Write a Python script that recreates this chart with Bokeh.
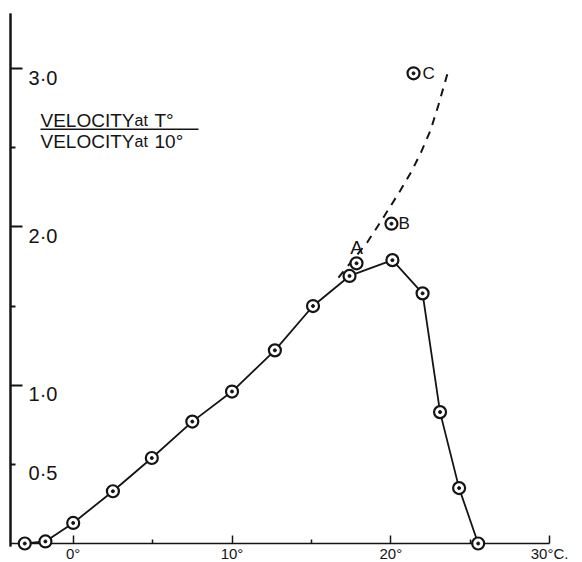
from bokeh.plotting import figure
from bokeh.models import Range1d, LinearAxis, FixedTicker, Label, BoxAnnotation
from bokeh.core.properties import value
from bokeh.embed import file_html
from bokeh.resources import INLINE

# ---- data ----
temp = [-3.05, -1.75, 0.0, 2.5, 4.95, 7.5, 10.0, 12.7, 15.1, 17.4, 20.1, 22.0, 23.1, 24.3, 25.5]
ratio = [0.0, 0.013, 0.13, 0.33, 0.54, 0.77, 0.96, 1.22, 1.50, 1.69, 1.79, 1.58, 0.83, 0.35, 0.0]

extrap_t = [16.7, 18.5, 19.6, 20.6, 21.3, 21.9, 22.5, 23.0, 23.6]
extrap_r = [1.68, 1.90, 2.07, 2.23, 2.35, 2.47, 2.61, 2.77, 2.98]

point_a = (17.84, 1.77)
point_b = (20.04, 2.02)
point_c = (21.43, 2.97)

xtick_vals = [0, 10, 20, 30]
xtick_labels = ["0°", "10°", "20°", "30°C."]
xminor_vals = [5, 15, 25]

ytick_long = [1, 2, 3]
ytick_short = [0.5, 1.5, 2.5]
ylabel_vals = [0.5, 1, 2, 3]
ylabel_text = ["0·5", "1·0", "2·0", "3·0"]

X_AXIS_AT = -3.948
INK = "#141414"
FONT = "Liberation Sans"

p = figure(width=582, height=562,
           x_range=Range1d(-4.578, 32.07), y_range=Range1d(-0.120, 3.430),
           output_backend="svg", toolbar_location=None,
           x_axis_location=None, y_axis_location=None, min_border=0)
p.xgrid.visible = False
p.ygrid.visible = False
p.outline_line_color = None
p.background_fill_color = "white"

xaxis = LinearAxis(fixed_location=0,
                   ticker=FixedTicker(ticks=xtick_vals, minor_ticks=xminor_vals),
                   bounds=(X_AXIS_AT, 30.0),
                   major_tick_in=8, major_tick_out=0, minor_tick_in=4, minor_tick_out=0,
                   major_tick_line_width=1.5, minor_tick_line_width=1.5,
                   axis_line_width=1.6, axis_line_color=INK,
                   major_tick_line_color=INK, minor_tick_line_color=INK,
                   major_label_overrides=dict(zip(xtick_vals, xtick_labels)),
                   major_label_standoff=1,
                   major_label_text_font=FONT, major_label_text_font_size="15px",
                   major_label_text_color=INK, major_label_text_font_style="normal",
                   level="underlay")
p.add_layout(xaxis, "below")

# left axis: drawn twice at the same place, long ticks and short ticks, no labels
for ticks, length in ((ytick_long, 12), (ytick_short, 5)):
    yaxis = LinearAxis(fixed_location=X_AXIS_AT,
                       ticker=FixedTicker(ticks=[], minor_ticks=ticks),
                       bounds=(-0.02, 3.348),
                       major_tick_in=0, major_tick_out=0,
                       minor_tick_in=length, minor_tick_out=0,
                       minor_tick_line_width=2,
                       axis_line_width=2, axis_line_color=INK,
                       minor_tick_line_color=INK,
                       level="underlay")
    p.add_layout(yaxis, "left")

# y tick labels sit inside the plot, right of the axis, just below their ticks
p.text(x=[X_AXIS_AT] * len(ylabel_vals), y=ylabel_vals, text=ylabel_text,
       x_offset=18, y_offset=9, text_align="left", text_baseline="middle",
       text_font=value(FONT), text_font_size="20px", text_color=INK)

# extrapolated (dashed) curve
p.line(extrap_t, extrap_r, line_color=INK, line_width=2, line_dash="8 7")

# observed curve
p.line(temp, ratio, line_color=INK, line_width=1.8)
p.scatter(temp, ratio, size=12, fill_color="white", line_color=INK, line_width=2.2)
p.scatter(temp, ratio, size=3, color=INK)

# marked points A, B, C
mx = [point_a[0], point_b[0], point_c[0]]
my = [point_a[1], point_b[1], point_c[1]]
p.scatter(mx, my, size=12, fill_color="white", line_color=INK, line_width=2.2)
p.scatter(mx, my, size=3, color=INK)
p.text(x=[point_a[0]], y=[point_a[1]], text=["A"], y_offset=-16,
       text_align="center", text_baseline="middle",
       text_font=value(FONT), text_font_size="19px", text_color=INK)
p.text(x=[point_b[0]], y=[point_b[1]], text=["B"], x_offset=7,
       text_align="left", text_baseline="middle",
       text_font=value(FONT), text_font_size="17px", text_color=INK)
p.text(x=[point_c[0]], y=[point_c[1]], text=["C"], x_offset=9,
       text_align="left", text_baseline="middle",
       text_font=value(FONT), text_font_size="17px", text_color=INK)

# y-axis quantity written as a fraction (screen units, y measured from bottom)
def lab(x, y, t, size):
    p.add_layout(Label(x=x, y=y, x_units="screen", y_units="screen", text=t,
                       text_font=FONT, text_font_size=size, text_color=INK,
                       text_baseline="alphabetic", text_align="left"))

lab(40, 442, "VELOCITY", "19px")
lab(134, 442, "at", "16px")
lab(154, 442, "T°", "19px")
lab(40, 421, "VELOCITY", "19px")
lab(134, 421, "at", "16px")
lab(154, 421, "10°", "19px")
p.add_layout(BoxAnnotation(left=40, right=198, bottom=432.5, top=434,
                           left_units="screen", right_units="screen",
                           bottom_units="screen", top_units="screen",
                           fill_color=INK, fill_alpha=1, line_color=None))

open("out.html", "w").write(file_html(p, INLINE))
